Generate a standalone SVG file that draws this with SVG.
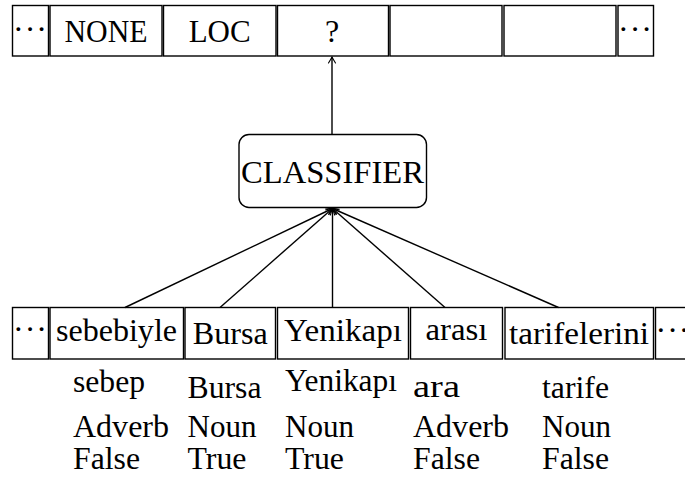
<svg xmlns="http://www.w3.org/2000/svg" width="685" height="480" viewBox="0 0 685 480">
<style>
  .box { fill: #ffffff; stroke: #000000; stroke-width: 1.4; }
  .t { font-family: 'Liberation Serif', 'Times New Roman', serif; font-size: 32px; fill: #000000; }
  .c { text-anchor: middle; }
  .dots { letter-spacing: 1px; text-anchor: middle; }
  .edge { stroke: #000000; stroke-width: 1.4; fill: none; marker-end: url(#arr); }
</style>
<defs>
  <marker id="arr" markerUnits="userSpaceOnUse" viewBox="-8 -5 10 10" markerWidth="10" markerHeight="10" refX="0" refY="0" orient="auto">
    <path d="M -6 -3.5 Q -2 -1 0 0 Q -2 1 -6 3.5" fill="none" stroke="#000000" stroke-width="1.1" stroke-linecap="round"/>
  </marker>
</defs>
<rect x="0" y="0" width="685" height="480" fill="#ffffff"/>

<g id="top-row">
  <g id="top-0"><rect class="box" x="12.5" y="5.5" width="36" height="50.5"/><text class="t dots" x="30.5" y="40">···</text></g>
  <g id="top-1"><rect class="box" x="50" y="5.5" width="112" height="50.5"/><text class="t c" x="106" y="41.5" textLength="83" lengthAdjust="spacingAndGlyphs">NONE</text></g>
  <g id="top-2"><rect class="box" x="163.5" y="5.5" width="112.5" height="50.5"/><text class="t c" x="219.7" y="41.5" textLength="62" lengthAdjust="spacingAndGlyphs">LOC</text></g>
  <g id="top-3"><rect class="box" x="277.5" y="5.5" width="111" height="50.5"/><text class="t c" x="332" y="41.5">?</text></g>
  <g id="top-4"><rect class="box" x="390" y="5.5" width="112" height="50.5"/></g>
  <g id="top-5"><rect class="box" x="504" y="5.5" width="112" height="50.5"/></g>
  <g id="top-6"><rect class="box" x="618" y="5.5" width="35.5" height="50.5"/><text class="t dots" x="635.5" y="40">···</text></g>
</g>

<g id="classifier">
  <rect class="box" x="239" y="134.5" width="187.5" height="73" rx="10" ry="10"/>
  <text class="t c" x="332.5" y="183" textLength="183" lengthAdjust="spacingAndGlyphs">CLASSIFIER</text>
</g>

<g id="bottom-row">
  <g id="w0"><rect class="box" x="12.5" y="307.5" width="36" height="51.5"/><text class="t dots" x="30.5" y="340">···</text></g>
  <g id="w1"><rect class="box" x="50" y="307.5" width="133.5" height="51.5"/><text class="t c" x="116.5" y="340.5" textLength="121" lengthAdjust="spacingAndGlyphs">sebebiyle</text></g>
  <g id="w2"><rect class="box" x="185" y="307.5" width="90.5" height="51.5"/><text class="t c" x="230.3" y="343.5" textLength="75" lengthAdjust="spacingAndGlyphs">Bursa</text></g>
  <g id="w3"><rect class="box" x="277.5" y="307.5" width="131" height="51.5"/><text class="t c" x="343" y="340.5" textLength="118" lengthAdjust="spacingAndGlyphs">Yenikapı</text></g>
  <g id="w4"><rect class="box" x="410.5" y="307.5" width="92" height="51.5"/><text class="t c" x="456.5" y="339.5" textLength="62" lengthAdjust="spacingAndGlyphs">arası</text></g>
  <g id="w5"><rect class="box" x="505" y="307.5" width="148.5" height="51.5"/><text class="t c" x="579" y="343.5" textLength="140" lengthAdjust="spacingAndGlyphs">tarifelerini</text></g>
  <g id="w6"><rect class="box" x="655.5" y="307.5" width="45" height="51.5"/><text class="t dots" x="673" y="341">···</text></g>
</g>

<g id="features">
  <text class="t" x="73" y="392" textLength="72" lengthAdjust="spacingAndGlyphs">sebep</text>
  <text class="t" x="73" y="437" textLength="96" lengthAdjust="spacingAndGlyphs">Adverb</text>
  <text class="t" x="73" y="469" textLength="67" lengthAdjust="spacingAndGlyphs">False</text>
  <text class="t" x="187.5" y="398" textLength="74" lengthAdjust="spacingAndGlyphs">Bursa</text>
  <text class="t" x="187.5" y="437" textLength="69" lengthAdjust="spacingAndGlyphs">Noun</text>
  <text class="t" x="187.5" y="469" textLength="59" lengthAdjust="spacingAndGlyphs">True</text>
  <text class="t" x="285" y="391" textLength="112" lengthAdjust="spacingAndGlyphs">Yenikapı</text>
  <text class="t" x="285" y="437" textLength="69" lengthAdjust="spacingAndGlyphs">Noun</text>
  <text class="t" x="285" y="469" textLength="59" lengthAdjust="spacingAndGlyphs">True</text>
  <text class="t" x="413" y="397" textLength="47" lengthAdjust="spacingAndGlyphs">ara</text>
  <text class="t" x="413" y="437" textLength="96" lengthAdjust="spacingAndGlyphs">Adverb</text>
  <text class="t" x="413" y="469" textLength="67" lengthAdjust="spacingAndGlyphs">False</text>
  <text class="t" x="542" y="398" textLength="67" lengthAdjust="spacingAndGlyphs">tarife</text>
  <text class="t" x="542" y="437" textLength="69" lengthAdjust="spacingAndGlyphs">Noun</text>
  <text class="t" x="542" y="469" textLength="67" lengthAdjust="spacingAndGlyphs">False</text>
</g>

<g id="connectors">
  <line class="edge" x1="332" y1="134.5" x2="332" y2="57"/>
  <line class="edge" x1="125" y1="307.5" x2="332.5" y2="208.5"/>
  <line class="edge" x1="220" y1="307.5" x2="332.5" y2="208.5"/>
  <line class="edge" x1="332.5" y1="307.5" x2="332.5" y2="208.5"/>
  <line class="edge" x1="445" y1="307.5" x2="332.5" y2="208.5"/>
  <line class="edge" x1="558.5" y1="307.5" x2="332.5" y2="208.5"/>
</g>
</svg>
